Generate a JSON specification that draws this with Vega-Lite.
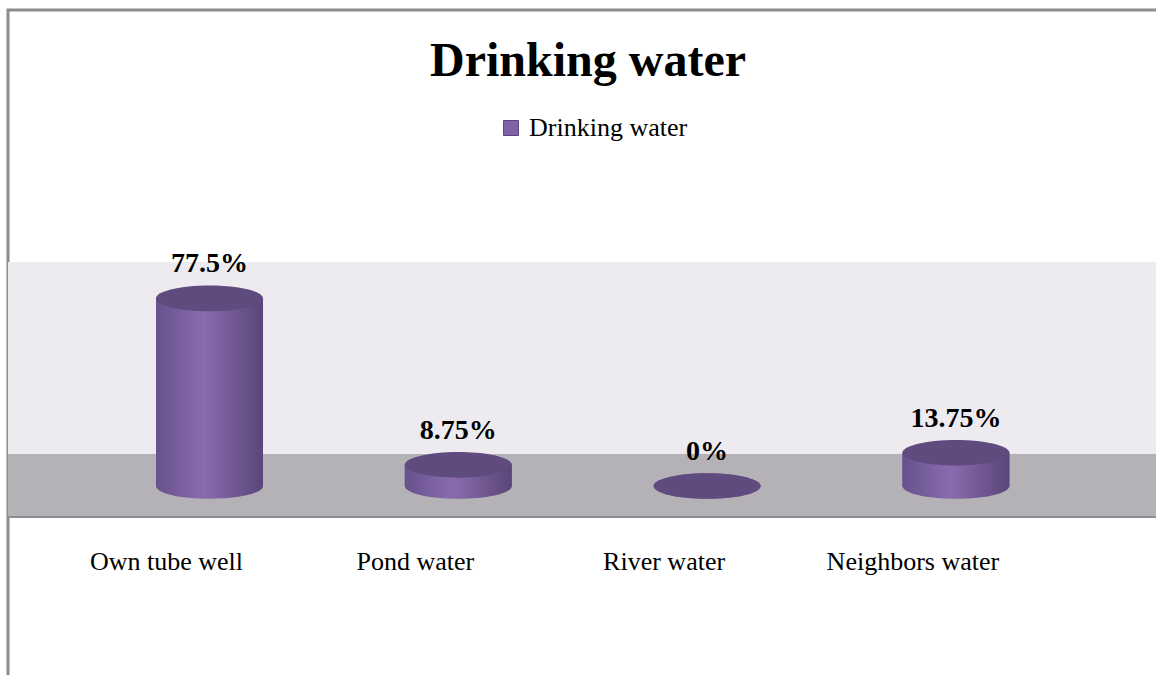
{
  "$schema": "https://vega.github.io/schema/vega-lite/v6.json",
  "width": 1160,
  "height": 680,
  "autosize": {"type": "none"},
  "padding": {"left": 8, "top": 10, "right": 0, "bottom": 0},
  "background": "white",
  "config": {"view": {"stroke": "#8c8c8c", "strokeWidth": 3, "fill": "white"}, "font": "Liberation Serif"},
  "title": {"text": "Drinking water", "fontSize": 48, "fontWeight": "bold", "font": "Liberation Serif", "color": "#000000", "anchor": "middle", "baseline": "alphabetic", "offset": 0, "dy": 114},
  "data": {"values": [
    {"source": "Own tube well", "value": 77.5, "label": "77.5%", "series": "Drinking water"},
    {"source": "Pond water", "value": 8.75, "label": "8.75%", "series": "Drinking water"},
    {"source": "River water", "value": 0, "label": "0%", "series": "Drinking water"},
    {"source": "Neighbors water", "value": 13.75, "label": "13.75%", "series": "Drinking water"}
  ]},
  "layer": [
    {
      "data": {"values": [{}]},
      "mark": {"type": "rect", "color": "#EDEBF0"},
      "encoding": {
        "y": {"datum": 13.2, "type": "quantitative", "scale": {"domain": [-84.3, 196.7], "nice": false, "zero": false}, "axis": null},
        "y2": {"datum": 92.6}
      }
    },
    {
      "data": {"values": [{}]},
      "mark": {"type": "rect", "color": "#B4B2B7"},
      "encoding": {
        "y": {"datum": -12.8, "type": "quantitative"},
        "y2": {"datum": 13.2}
      }
    },
    {
      "data": {"values": [{}]},
      "mark": {"type": "rule", "color": "#8E8D91", "strokeWidth": 2},
      "encoding": {
        "y": {"datum": -12.8, "type": "quantitative"}
      }
    },
    {
      "mark": {"type": "point", "shape": "M -1 0 A 1 0.24 0 1 0 1 0 A 1 0.24 0 1 0 -1 0 Z", "size": 11449, "filled": true, "opacity": 1, "strokeWidth": 0,
        "fill": {"gradient": "linear", "x1": 0, "x2": 1, "y1": 0, "y2": 0, "stops": [{"offset": 0, "color": "#67518C"}, {"offset": 0.45, "color": "#8A6CAE"}, {"offset": 1, "color": "#5A4578"}]}},
      "encoding": {
        "x": {"field": "source", "type": "nominal", "sort": null,
          "scale": {"paddingInner": 0.57, "paddingOuter": 0.6162, "align": 0.4827},
          "axis": {"title": null, "orient": "bottom", "offset": -142, "domain": false, "ticks": false, "grid": false, "labelAngle": 0, "labelFontSize": 26, "labelFont": "Liberation Serif", "labelColor": "#000000", "labelPadding": 0, "labelOffset": -43}},
        "y": {"datum": 0, "type": "quantitative"}
      }
    },
    {
      "mark": {"type": "bar"},
      "encoding": {
        "x": {"field": "source", "type": "nominal", "sort": null},
        "y": {"field": "value", "type": "quantitative"},
        "y2": {"datum": 0},
        "color": {"field": "series", "type": "nominal", "scale": {"range": ["#7F63A7"]},
          "legend": {"orient": "none", "legendX": 490, "legendY": 105, "title": null, "labelFontSize": 26, "labelFont": "Liberation Serif", "labelColor": "#000000", "symbolType": "square", "symbolSize": 225, "symbolStrokeColor": "#5B477A", "symbolStrokeWidth": 1, "labelOffset": 5, "padding": 0}}
      }
    },
    {
      "mark": {"type": "bar",
        "fill": {"gradient": "linear", "x1": 0, "x2": 1, "y1": 0, "y2": 0, "stops": [{"offset": 0, "color": "#67518C"}, {"offset": 0.45, "color": "#8A6CAE"}, {"offset": 1, "color": "#5A4578"}]}},
      "encoding": {
        "x": {"field": "source", "type": "nominal", "sort": null},
        "y": {"field": "value", "type": "quantitative"},
        "y2": {"datum": 0}
      }
    },
    {
      "mark": {"type": "point", "shape": "M -1 0 A 1 0.24 0 1 0 1 0 A 1 0.24 0 1 0 -1 0 Z", "size": 11449, "filled": true, "opacity": 1, "strokeWidth": 0, "fill": "#604B7F"},
      "encoding": {
        "x": {"field": "source", "type": "nominal", "sort": null},
        "y": {"field": "value", "type": "quantitative"}
      }
    },
    {
      "mark": {"type": "text", "fontSize": 28, "fontWeight": "bold", "font": "Liberation Serif", "color": "#000000", "baseline": "alphabetic", "dy": -26},
      "encoding": {
        "x": {"field": "source", "type": "nominal", "sort": null},
        "y": {"field": "value", "type": "quantitative"},
        "text": {"field": "label"}
      }
    }
  ]
}
